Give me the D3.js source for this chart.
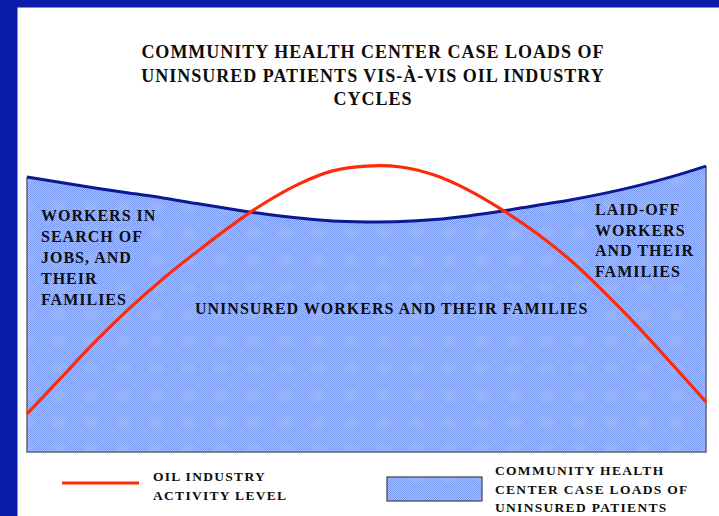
<!DOCTYPE html>
<html>
<head>
<meta charset="utf-8">
<script src="https://cdn.jsdelivr.net/npm/d3@7"></script>
<style>
  html, body { margin: 0; padding: 0; background: #fff; }
  svg { display: block; }
  text { font-family: "Liberation Serif", "Times New Roman", "DejaVu Serif", serif; fill: #0d0d0d; }
</style>
</head>
<body>
<svg id="chart" width="719" height="516"></svg>
<script>
// Position through the oil industry cycle (percent of cycle)
const cyclePosition = [0, 5, 10, 15, 20, 25, 30, 35, 40, 45, 50, 55, 60, 65, 70, 75, 80, 85, 90, 95, 100];
// Community health center case loads of uninsured patients (relative level)
const caseLoads = [91.7, 89.8, 88, 86.3, 84.7, 82.8, 81, 79.3, 78, 77, 76.7, 76.8, 77.5, 78.7, 80.3, 82.2, 84, 86.2, 88.8, 91.8, 95.3];
// Oil industry activity level (relative level)
const oilActivity = [12.7, 24.7, 36.7, 47.7, 57.7, 66.7, 75.3, 83, 89.3, 93.7, 95.3, 95, 92.3, 87.3, 80.7, 73, 64, 53.3, 41.7, 29.3, 16.7];

const titleLines = ["COMMUNITY HEALTH CENTER CASE LOADS OF", "UNINSURED PATIENTS VIS-À-VIS OIL INDUSTRY", "CYCLES"];
const leftLabel = ["WORKERS IN", "SEARCH OF", "JOBS, AND", "THEIR", "FAMILIES"];
const rightLabel = ["LAID-OFF", "WORKERS", "AND THEIR", "FAMILIES"];
const centerLabel = "UNINSURED WORKERS AND THEIR FAMILIES";
const oilLegend = ["OIL INDUSTRY", "ACTIVITY LEVEL"];
const loadLegend = ["COMMUNITY HEALTH", "CENTER CASE LOADS OF", "UNINSURED PATIENTS"];

const svg = d3.select("#chart");
const W = 719, H = 516;

// Slide frame: dark blue band down the left and across the top
svg.append("rect").attr("x", 0).attr("y", 0).attr("width", W).attr("height", H).attr("fill", "#fff");
svg.append("rect").attr("x", 0).attr("y", 0).attr("width", 17.5).attr("height", H).attr("fill", "#0a1ca8");
svg.append("rect").attr("x", 0).attr("y", 0).attr("width", W).attr("height", 7.5).attr("fill", "#0a1ca8");

// Dithered light-blue fill used for the case-load area
const defs = svg.append("defs");
const checker = defs.append("pattern").attr("id", "checker")
  .attr("patternUnits", "userSpaceOnUse").attr("width", 2).attr("height", 2);
checker.append("rect").attr("width", 2).attr("height", 2).attr("fill", "#a9c1f8");
checker.append("rect").attr("x", 0).attr("y", 0).attr("width", 1).attr("height", 1).attr("fill", "#7898ef");
checker.append("rect").attr("x", 1).attr("y", 1).attr("width", 1).attr("height", 1).attr("fill", "#7898ef");

const glow = defs.append("radialGradient").attr("id", "glow");
glow.append("stop").attr("offset", "0%").attr("stop-color", "#9cb7f6").attr("stop-opacity", 0.8);
glow.append("stop").attr("offset", "100%").attr("stop-color", "#9cb7f6").attr("stop-opacity", 0);
const blobs = defs.append("pattern").attr("id", "blobs")
  .attr("patternUnits", "userSpaceOnUse").attr("width", 32.5).attr("height", 27)
  .attr("x", 10).attr("y", 4);
blobs.append("ellipse").attr("cx", 16.25).attr("cy", 13.5).attr("rx", 11).attr("ry", 9).attr("fill", "url(#glow)");

// Plot area
const plot = { left: 27, right: 706, top: 152, bottom: 452 };
const x = d3.scaleLinear().domain([0, 100]).range([plot.left, plot.right]);
const y = d3.scaleLinear().domain([0, 100]).range([plot.bottom, plot.top]);

const loadPts = cyclePosition.map((p, i) => [p, caseLoads[i]]);
const oilPts = cyclePosition.map((p, i) => [p, oilActivity[i]]);
const curve = d3.curveCatmullRom.alpha(0.5);

const area = d3.area().x(d => x(d[0])).y0(y(0)).y1(d => y(d[1])).curve(curve);
svg.append("path").datum(loadPts).attr("d", area).attr("fill", "url(#checker)");
svg.append("path").datum(loadPts).attr("d", area).attr("fill", "url(#blobs)");

// Grey edges on the sides and bottom of the area
const edge = d3.line();
svg.append("path")
  .attr("d", edge([[x(0), y(caseLoads[0])], [x(0), y(0)], [x(100), y(0)], [x(100), y(caseLoads[caseLoads.length - 1])]]))
  .attr("fill", "none").attr("stroke", "#5f6370").attr("stroke-width", 1.5);

const line = d3.line().x(d => x(d[0])).y(d => y(d[1])).curve(curve);
svg.append("path").datum(loadPts).attr("d", line)
  .attr("fill", "none").attr("stroke", "#0a1896").attr("stroke-width", 3);
svg.append("path").datum(oilPts).attr("d", line)
  .attr("fill", "none").attr("stroke", "#ff2a0a").attr("stroke-width", 3.2);

// Title
svg.append("g").selectAll("text").data(titleLines).join("text")
  .attr("x", 373).attr("y", (d, i) => 58 + i * 23.5)
  .attr("text-anchor", "middle")
  .style("font-size", "18px").style("font-weight", "bold").style("letter-spacing", "1px")
  .text(d => d);

// Labels inside the area
function block(lines, x0, y0, step) {
  svg.append("g").selectAll("text").data(lines).join("text")
    .attr("x", x0).attr("y", (d, i) => y0 + i * step)
    .style("font-size", "16px").style("font-weight", "bold").style("letter-spacing", "1px")
    .text(d => d);
}
block(leftLabel, 41, 221, 21);
block(rightLabel, 595, 215, 20.7);
block([centerLabel], 195, 314, 0);

// Legend
svg.append("line").attr("x1", 62).attr("x2", 139).attr("y1", 483).attr("y2", 483)
  .attr("stroke", "#ff2a0a").attr("stroke-width", 3.2);
svg.append("g").selectAll("text").data(oilLegend).join("text")
  .attr("x", 153).attr("y", (d, i) => 481 + i * 19)
  .style("font-size", "13.5px").style("font-weight", "bold").style("letter-spacing", "1.3px")
  .text(d => d);

svg.append("rect").attr("x", 387).attr("y", 477).attr("width", 95).attr("height", 24)
  .attr("fill", "url(#checker)");
svg.append("rect").attr("x", 387).attr("y", 477).attr("width", 95).attr("height", 24)
  .attr("fill", "url(#blobs)").attr("stroke", "#3c4150").attr("stroke-width", 1.2);
svg.append("g").selectAll("text").data(loadLegend).join("text")
  .attr("x", 495).attr("y", (d, i) => 475 + i * 18.5)
  .style("font-size", "13.5px").style("font-weight", "bold").style("letter-spacing", "1.3px")
  .text(d => d);
</script>
</body>
</html>
